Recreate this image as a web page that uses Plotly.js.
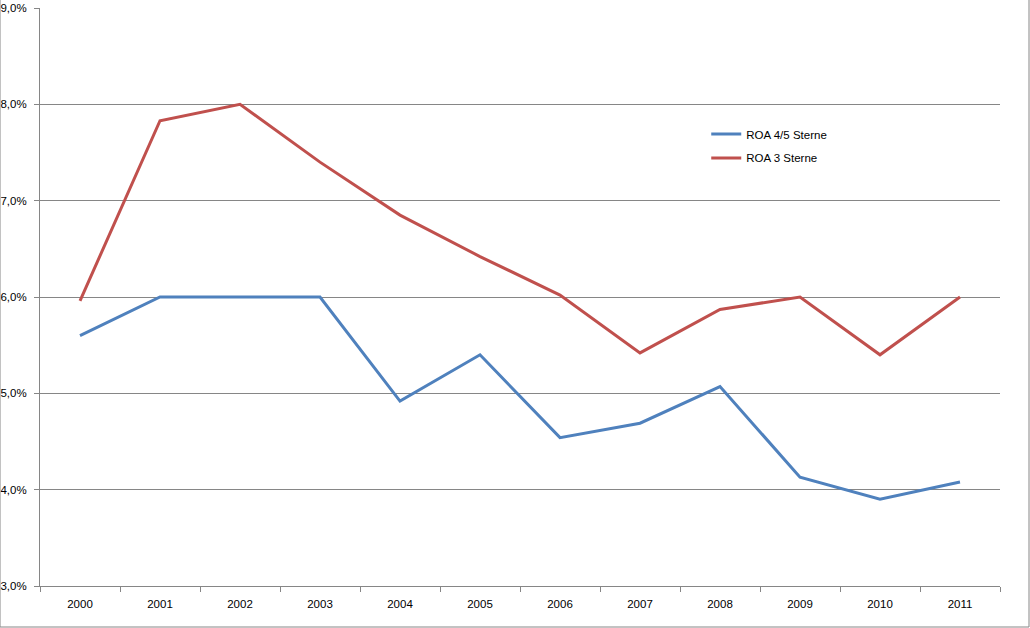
<!DOCTYPE html>
<html>
<head>
<meta charset="utf-8">
<script src="https://cdn.plot.ly/plotly-3.0.1.min.js"></script>
<style>
  html, body { margin: 0; padding: 0; background: #fff; }
  #myDiv { width: 1030px; height: 628px; }
</style>
</head>
<body>
<div id="myDiv"></div>
<script>
/**************************************************************/
var years = ['2000', '2001', '2002', '2003', '2004', '2005',
             '2006', '2007', '2008', '2009', '2010', '2011'];

// ROA in %
var roa45 = [5.60, 6.00, 6.00, 6.00, 4.92, 5.40, 4.54, 4.69, 5.07, 4.13, 3.90, 4.08];
var roa3  = [5.96, 7.83, 8.00, 7.40, 6.85, 6.42, 6.02, 5.42, 5.87, 6.00, 5.40, 6.00];

var seriesNames = ['ROA 4/5 Sterne', 'ROA 3 Sterne'];

/**************************************************************/
function makeTrace(yval, name, color, legendname) {
  return {
    x: years,
    y: yval,
    name: name,
    legend: legendname,
    mode: 'lines',
    type: 'scatter',
    line: { color: color, width: 3 },
    hoverinfo: 'x+y+name'
  };
}

function legendAt(ypos, fnt) {
  return {
    x: 0.694,
    y: ypos,
    xanchor: 'left',
    yanchor: 'middle',
    bgcolor: 'rgba(0,0,0,0)',
    font: fnt
  };
}

function getLayout() {
  var axcolor = '#868686';
  var fnt = { family: 'Liberation Sans, Arial, sans-serif', size: 11.5, color: '#000000' };
  return {
    width: 1030,
    height: 628,
    margin: { l: 40, r: 30, t: 8, b: 42 },
    paper_bgcolor: '#fff',
    plot_bgcolor: '#fff',
    separators: ',.',
    font: fnt,
    showlegend: true,
    legend: legendAt(0.782, fnt),
    legend2: legendAt(0.7405, fnt),
    xaxis: {
      type: 'category',
      range: [-0.5, 11.5],
      showline: true,
      linecolor: axcolor,
      linewidth: 1,
      showgrid: false,
      zeroline: false,
      ticks: 'outside',
      tickson: 'boundaries',
      ticklen: 5,
      tickcolor: axcolor,
      tickfont: fnt,
      ticklabelstandoff: 7,
      fixedrange: true
    },
    yaxis: {
      range: [3, 9],
      dtick: 1,
      tickformat: '.1f',
      ticksuffix: '%',
      showline: true,
      linecolor: axcolor,
      linewidth: 1,
      showgrid: true,
      gridcolor: axcolor,
      gridwidth: 1,
      zeroline: false,
      ticks: 'outside',
      ticklen: 5,
      tickcolor: axcolor,
      tickfont: fnt,
      ticklabelstandoff: 5,
      fixedrange: true
    },
    shapes: [{
      type: 'rect',
      xref: 'paper', yref: 'paper',
      x0: -40 / 960, x1: 989 / 960,
      y0: -41 / 578, y1: 587 / 578,
      line: { color: '#868686', width: 1 },
      fillcolor: 'rgba(0,0,0,0)'
    }],
    hovermode: 'closest'
  };
}

var data = [
  makeTrace(roa45, seriesNames[0], '#4F81BD', 'legend'),
  makeTrace(roa3, seriesNames[1], '#C0504D', 'legend2')
];

Plotly.newPlot('myDiv', data, getLayout(), { displayModeBar: false, staticPlot: true });
</script>
</body>
</html>
